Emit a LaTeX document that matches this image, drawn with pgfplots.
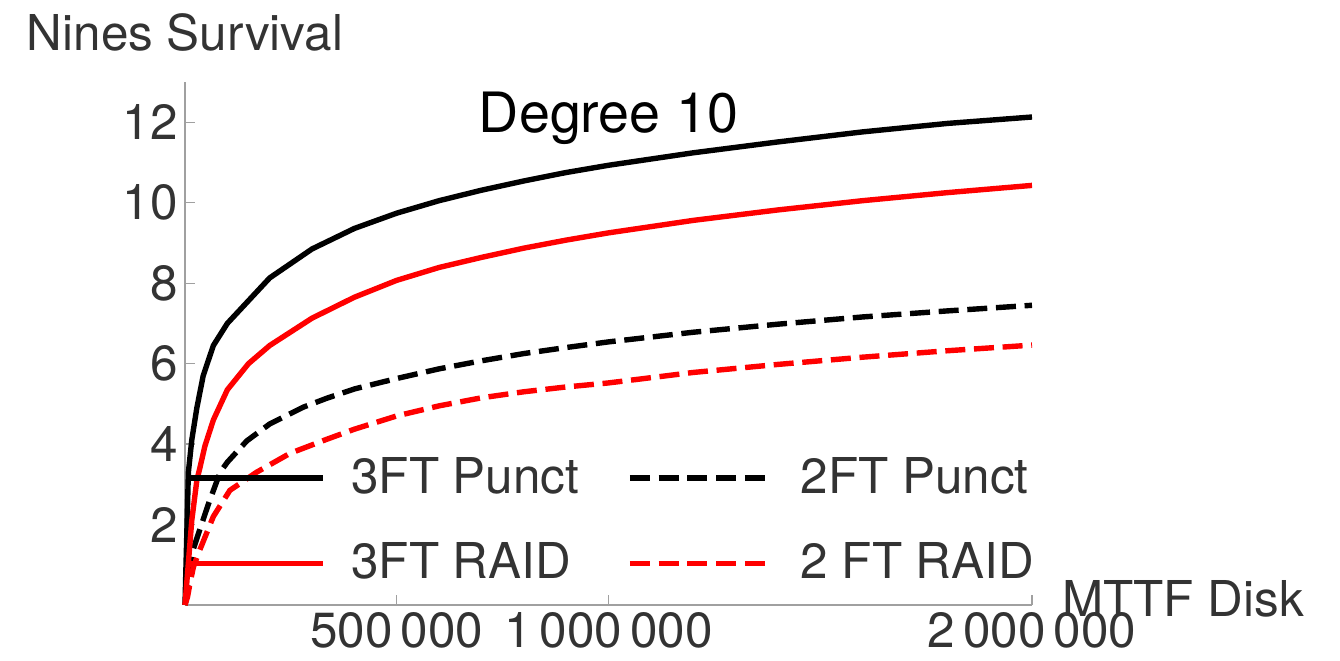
\documentclass[border=0pt]{standalone}
\usepackage{fontspec}
\setmainfont{TeX Gyre Heros}
\usepackage{pgfplots}
\pgfplotsset{compat=1.18}
\definecolor{txt}{HTML}{333333}
\definecolor{axgray}{HTML}{A0A0A0}
\begin{document}
\begin{tikzpicture}
\begin{axis}[
  scale only axis, width=423.5pt, height=261.5pt,
  xmin=0, xmax=2000000, ymin=0, ymax=13,
  axis lines=left,
  axis line style={-, draw=axgray, line width=0.6pt},
  tick style={draw=axgray, line width=0.6pt},
  tick align=inside, major tick length=5pt,
  xtick={500000,1000000,2000000},
  xticklabels={500\,000,1\,000\,000,2\,000\,000},
  scaled x ticks=false,
  ytick={2,4,6,8,10,12},
  /pgf/number format/assume math mode=true,
  tick label style={font=\fontsize{24.7}{29}\selectfont, text=txt},
  clip=false,
  every axis x label/.style={at={(rel axis cs:1,0)}, anchor=west, inner sep=0pt, xshift=15pt, yshift=3pt, font=\fontsize{24.7}{29}\selectfont, text=txt},
  every axis y label/.style={at={(rel axis cs:0,1)}, anchor=base, yshift=16pt, font=\fontsize{24.7}{29}\selectfont, text=txt},
  every axis title/.style={at={(rel axis cs:0.5,1)}, anchor=base, yshift=-25pt, font=\fontsize{27.8}{33}\selectfont, text=black},
  xlabel={MTTF Disk},
  ylabel={Nines Survival},
  title={Degree 10},
  legend columns=2,
  legend cell align=left,
  legend style={draw=none, fill=none, at={(rel axis cs:0,0.282)}, anchor=north west, inner sep=0pt, outer sep=0pt,
    nodes={inner sep=0pt, text=txt, font=\fontsize{24.7}{29}\selectfont},
    row sep=23.2pt,
    /tikz/column 1/.append style={column sep=13pt},
    /tikz/column 2/.append style={column sep=24pt},
    /tikz/column 3/.append style={column sep=16.5pt}},
  legend image code/.code={\draw[#1, line width=2.7pt] (0pt,-0.5pt) -- (67.5pt,-0.5pt);},
  every axis plot/.append style={line width=2.7pt, line join=round},
]
\addplot[black, solid] coordinates {
(0,0) (8000,3.3) (16000,4.1) (28000,4.9) (43000,5.7) (67000,6.45) (100000,7.0)
(200000,8.13) (300000,8.85) (400000,9.36) (500000,9.74) (600000,10.05) (700000,10.31)
(800000,10.54) (900000,10.75) (1000000,10.93) (1200000,11.24) (1400000,11.51)
(1600000,11.76) (1800000,11.97) (2000000,12.13)};
\addlegendentry{3FT Punct}
\addplot[black, dash pattern=on 10pt off 4.35pt] coordinates {
(0,0) (4000,0.2) (12000,0.8) (20000,1.4) (31000,1.75) (55000,2.5) (83000,3.3)
(100000,3.55) (146000,4.08) (200000,4.5) (280000,4.92) (335000,5.14) (400000,5.37)
(500000,5.63) (600000,5.87) (700000,6.07) (800000,6.25) (900000,6.4) (1000000,6.54)
(1200000,6.78) (1400000,6.98) (1600000,7.16) (1800000,7.31) (2000000,7.45)};
\addlegendentry{2FT Punct}
\addplot[red, solid] coordinates {
(0,0) (8000,1.05) (16000,2.1) (28000,3.1) (35000,3.4) (47000,3.95) (67000,4.6)
(100000,5.35) (150000,6.0) (200000,6.45) (300000,7.13) (400000,7.65) (500000,8.07)
(600000,8.39) (700000,8.64) (800000,8.87) (900000,9.07) (1000000,9.25)
(1200000,9.56) (1400000,9.82) (1600000,10.05) (1800000,10.25) (2000000,10.43)};
\addlegendentry{3FT RAID}
\addplot[red, dash pattern=on 10pt off 4.35pt] coordinates {
(0,0) (6000,0.2) (12000,0.55) (20000,0.95) (35000,1.37) (67000,2.2) (106000,2.85)
(169000,3.3) (248000,3.77) (335000,4.12) (400000,4.37) (500000,4.7) (600000,4.95)
(700000,5.15) (800000,5.3) (900000,5.42) (1000000,5.52) (1200000,5.78)
(1400000,5.98) (1600000,6.16) (1800000,6.32) (2000000,6.46)};
\addlegendentry{2 FT RAID}
\path (rel axis cs:-0.21842,-0.10516) rectangle (rel axis cs:1.36364,1.15679);
\end{axis}
\end{tikzpicture}
\end{document}
